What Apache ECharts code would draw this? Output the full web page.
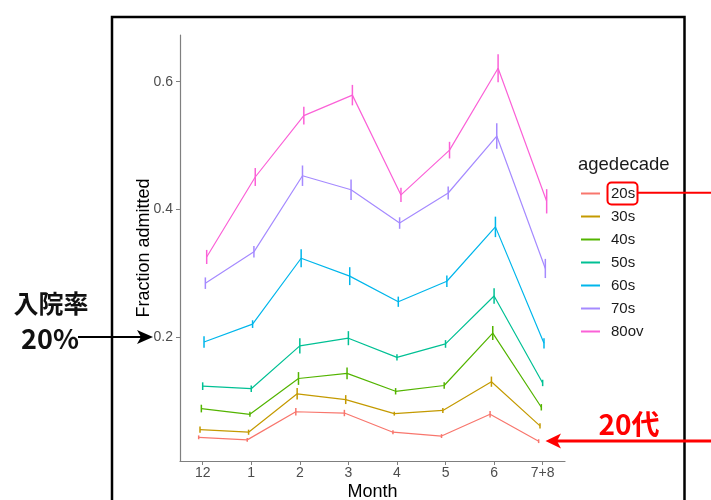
<!DOCTYPE html>
<html>
<head>
<meta charset="utf-8">
<script src="https://cdn.jsdelivr.net/npm/echarts@6/dist/echarts.min.js"></script>
<style>
  html, body { margin: 0; padding: 0; background: #fff; }
  #chart { width: 711px; height: 500px; }
</style>
</head>
<body>
<div id="chart"></div>
<script>
// categories
const months = ["12", "1", "2", "3", "4", "5", "6", "7+8"];
const ages = ["20s", "30s", "40s", "50s", "60s", "70s", "80ov"];
const yTicks = [0.2, 0.4, 0.6];

// mean fraction admitted per month, and half-width of the error bar
const frac20 = [0.044, 0.040, 0.084, 0.082, 0.052, 0.046, 0.080, 0.038];
const err20 = [0.003, 0.003, 0.006, 0.005, 0.003, 0.003, 0.005, 0.003];
const frac30 = [0.056, 0.052, 0.112, 0.103, 0.081, 0.086, 0.131, 0.062];
const err30 = [0.005, 0.004, 0.009, 0.007, 0.003, 0.004, 0.008, 0.004];
const frac40 = [0.089, 0.080, 0.136, 0.144, 0.116, 0.125, 0.207, 0.091];
const err40 = [0.006, 0.004, 0.010, 0.009, 0.005, 0.005, 0.011, 0.005];
const frac50 = [0.124, 0.120, 0.187, 0.199, 0.169, 0.190, 0.265, 0.129];
const err50 = [0.006, 0.005, 0.012, 0.011, 0.005, 0.006, 0.012, 0.005];
const frac60 = [0.193, 0.221, 0.324, 0.296, 0.256, 0.288, 0.373, 0.191];
const err60 = [0.009, 0.006, 0.014, 0.014, 0.008, 0.009, 0.016, 0.008];
const frac70 = [0.285, 0.334, 0.453, 0.431, 0.379, 0.426, 0.515, 0.308];
const err70 = [0.009, 0.009, 0.016, 0.016, 0.009, 0.010, 0.020, 0.015];
const frac80 = [0.326, 0.451, 0.547, 0.579, 0.423, 0.493, 0.621, 0.413];
const err80 = [0.011, 0.014, 0.014, 0.016, 0.011, 0.013, 0.022, 0.019];

const means = [frac20, frac30, frac40, frac50, frac60, frac70, frac80];
const errs = [err20, err30, err40, err50, err60, err70, err80];

// ggplot default hue palette for 7 groups
const COLORS = ["#F8766D", "#C49A00", "#53B400", "#00C094", "#00B6EB", "#A58AFF", "#FB61D7"];
const DODGE = 0.0275; // position_dodge step, in category units
const AXIS = "#7f7f7f";
const LABEL = "#4d4d4d";
const FONT = "'Liberation Sans', Arial, sans-serif";
const JP = "'Noto Sans CJK JP', sans-serif";

const chart = echarts.init(document.getElementById("chart"));

const series = [];
ages.forEach((age, s) => {
  const off = (s - 3) * DODGE;
  series.push({
    name: age,
    type: "line",
    data: means[s].map((v, i) => [i + off, v]),
    symbol: "none",
    lineStyle: { color: COLORS[s], width: 1.2 },
    itemStyle: { color: COLORS[s] },
    z: 2,
  });
});
ages.forEach((age, s) => {
  const off = (s - 3) * DODGE;
  series.push({
    name: age + " err",
    type: "custom",
    data: means[s].map((v, i) => [i + off, v - errs[s][i], v + errs[s][i]]),
    encode: { x: 0, y: [1, 2] },
    renderItem: (params, api) => {
      const a = api.coord([api.value(0), api.value(1)]);
      const b = api.coord([api.value(0), api.value(2)]);
      return {
        type: "line",
        shape: { x1: a[0], y1: a[1], x2: b[0], y2: b[1] },
        style: { stroke: COLORS[s], lineWidth: 1.5 },
      };
    },
    z: 3,
  });
});

chart.setOption({
  animation: false,
  grid: { left: 180, right: 146, top: 35, bottom: 39, outerBoundsMode: "none" },
  xAxis: {
    type: "value",
    min: -0.467,
    max: 7.46,
    name: "Month",
    nameLocation: "middle",
    nameGap: 22,
    nameMoveOverlap: false,
    nameTextStyle: { color: "#000", fontSize: 18, fontFamily: FONT },
    axisLine: { onZero: false, lineStyle: { color: AXIS, width: 1.2 } },
    axisTick: { length: 4, lineStyle: { color: AXIS }, customValues: months.map((m, i) => i) },
    axisLabel: {
      color: LABEL, fontSize: 14, fontFamily: FONT, margin: 5,
      customValues: months.map((m, i) => i),
      formatter: (v) => months[Math.round(v)],
    },
    splitLine: { show: false },
  },
  yAxis: {
    type: "value",
    min: 0.007,
    max: 0.673,
    name: "Fraction admitted",
    nameLocation: "middle",
    nameGap: 27,
    nameMoveOverlap: false,
    nameTextStyle: { color: "#000", fontSize: 18, fontFamily: FONT },
    axisLine: { show: true, onZero: false, lineStyle: { color: AXIS, width: 1.2 } },
    axisTick: { show: true, length: 4, lineStyle: { color: AXIS }, customValues: yTicks },
    axisLabel: {
      color: LABEL, fontSize: 14, fontFamily: FONT, margin: 7,
      customValues: yTicks,
      formatter: (v) => v.toFixed(1),
    },
    splitLine: { show: false },
  },
  legend: {
    data: ages,
    orient: "vertical",
    left: 575,
    top: 181,
    itemWidth: 19,
    itemHeight: 14,
    itemGap: 8,
    itemStyle: { opacity: 0 },
    lineStyle: { width: 2 },
    textStyle: { color: "#1a1a1a", fontSize: 15, fontFamily: FONT, padding: [0, 0, 0, 6] },
    selectedMode: false,
  },
  graphic: [
    {
      type: "rect",
      shape: { x: 112, y: 17, width: 572.5, height: 520 },
      style: { fill: "none", stroke: "#000", lineWidth: 2.5 },
      z: 10,
    },
    {
      type: "text",
      x: 51, y: 303,
      style: { text: "入院率", font: "bold 25px " + JP, fill: "#111", align: "center", verticalAlign: "middle" },
      z: 11,
    },
    {
      type: "text",
      x: 50, y: 339,
      style: { text: "20%", font: "bold 27px " + JP, fill: "#111", align: "center", verticalAlign: "middle" },
      z: 11,
    },
    {
      type: "line",
      shape: { x1: 78, y1: 337, x2: 142, y2: 337 },
      style: { stroke: "#000", lineWidth: 2 },
      z: 11,
    },
    {
      type: "polygon",
      shape: { points: [[153, 337], [137, 330], [141, 337], [137, 344]] },
      style: { fill: "#000" },
      z: 11,
    },
    {
      type: "rect",
      shape: { x: 607.5, y: 182.5, width: 30, height: 22, r: 4 },
      style: { fill: "none", stroke: "#ff0000", lineWidth: 2 },
      z: 11,
    },
    {
      type: "line",
      shape: { x1: 637.5, y1: 192.7, x2: 711, y2: 192.7 },
      style: { stroke: "#ff0000", lineWidth: 2 },
      z: 11,
    },
    {
      type: "text",
      x: 629, y: 424,
      style: { text: "20代", font: "bold 28px " + JP, fill: "#ff0000", align: "center", verticalAlign: "middle" },
      z: 11,
    },
    {
      type: "line",
      shape: { x1: 557, y1: 441, x2: 711, y2: 441 },
      style: { stroke: "#ff0000", lineWidth: 3 },
      z: 11,
    },
    {
      type: "polygon",
      shape: { points: [[545.5, 441], [561, 433.5], [557, 441], [561, 448.5]] },
      style: { fill: "#ff0000" },
      z: 11,
    },
    {
      type: "text",
      x: 578, y: 165,
      style: { text: "agedecade", font: "18.5px " + FONT, fill: "#1a1a1a", verticalAlign: "middle" },
      z: 11,
    },
  ],
  series: series,
});
</script>
</body>
</html>
